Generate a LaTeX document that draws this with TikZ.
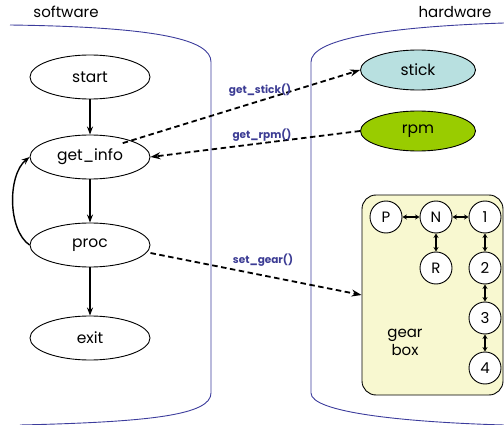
\documentclass[tikz,border=0pt]{standalone}
\usepackage{fontspec}
\setmainfont{Poppins}
\usetikzlibrary{shapes.geometric,arrows.meta}
\definecolor{bnd}{HTML}{3C3C9C}
\definecolor{lbl}{HTML}{3C3C94}
\definecolor{stickc}{HTML}{B8E0E0}
\definecolor{rpmc}{HTML}{99CC00}
\definecolor{gearc}{HTML}{F8F8D0}
\tikzset{
  proc/.style={ellipse,draw,line width=0.9pt,minimum width=120pt,minimum height=44pt,inner sep=0pt,font=\fontsize{15.5}{17}\selectfont},
  hw/.style={ellipse,draw,line width=0.9pt,minimum width=115pt,minimum height=40pt,inner sep=0pt,font=\fontsize{15.5}{17}\selectfont},
  gear/.style={circle,draw,line width=0.9pt,fill=white,minimum size=32pt,inner sep=0pt,font=\fontsize{15}{17}\selectfont},
  flow/.style={line width=1.4pt,-{Stealth[length=8pt,width=6pt]}},
  call/.style={line width=1.8pt,dash pattern=on 5.5pt off 3.5pt,-{Stealth[length=10pt,width=7pt]}},
  garr/.style={line width=1.1pt,{Stealth[length=4.5pt,width=5pt]}-{Stealth[length=4.5pt,width=5pt]}},
  bline/.style={draw=bnd,line width=0.9pt},
  clabel/.style={text=lbl,font=\bfseries\fontsize{10.5}{12}\selectfont},
  head/.style={font=\fontsize{15}{17}\selectfont}
}
\begin{document}
\begin{tikzpicture}[x=1pt,y=-1pt]
\useasboundingbox (0,0) rectangle (504,425);
% boundaries
\draw[bline] (10,25) .. controls (160,27) and (211,40) .. (211,62) -- (211,393) .. controls (211,415) and (150,422) .. (20,425);
\draw[bline] (504,23) .. controls (380,27) and (311,40) .. (311,62) -- (311,393) .. controls (311,412) and (400,422) .. (504,425);
\node[head] (sw) at (66,12) {software};
\node[head] (hwl) at (455,12) {hardware};
% software nodes
\node[proc] (start) at (90,77) {start};
\node[proc] (getinfo) at (90,157) {get\_info};
\node[proc] (procn) at (90,245) {proc};
\node[proc] (exit) at (90,338) {exit};
% hardware nodes
\node[hw,fill=stickc] (stick) at (418,70) {stick};
\node[hw,fill=rpmc] (rpm) at (418,131) {rpm};
\node[draw,line width=0.9pt,fill=gearc,rounded corners=14pt,minimum width=141pt,minimum height=200pt] (gearbox) at (432.5,295) {};
\node[align=center,font=\fontsize{15}{18}\selectfont] (gblabel) at (405,342) {gear\\box};
\node[gear] (P) at (386,217) {P};
\node[gear] (N) at (436,217) {N};
\node[gear] (g1) at (485,217) {1};
\node[gear] (R) at (436,268) {R};
\node[gear] (g2) at (485,268) {2};
\node[gear] (g3) at (485,318) {3};
\node[gear] (g4) at (485,368) {4};
\draw[garr] (P) -- (N);
\draw[garr] (N) -- (g1);
\draw[garr] (N) -- (R);
\draw[garr] (g1) -- (g2);
\draw[garr] (g2) -- (g3);
\draw[garr] (g3) -- (g4);
% flow
\draw[flow] (start) -- (getinfo);
\draw[flow] (getinfo) -- (procn);
\draw[flow] (procn) -- (exit);
\draw[flow] (procn.west) .. controls +(-22,-15) and +(-22,18) .. (getinfo.west);
% calls
\draw[call] (getinfo.north east) ++(-10,2) coordinate (a1) (a1) -- (stick.west);
\draw[call] (rpm.west) -- (getinfo.east);
\draw[call] (procn.east) ++(0,8) coordinate (a2) (a2) -- (gearbox.west);
\node[clabel] (l1) at (260,90) {get\_stick()};
\node[clabel] (l2) at (262,135) {get\_rpm()};
\node[clabel] (l3) at (263,260) {set\_gear()};
\end{tikzpicture}
\end{document}
